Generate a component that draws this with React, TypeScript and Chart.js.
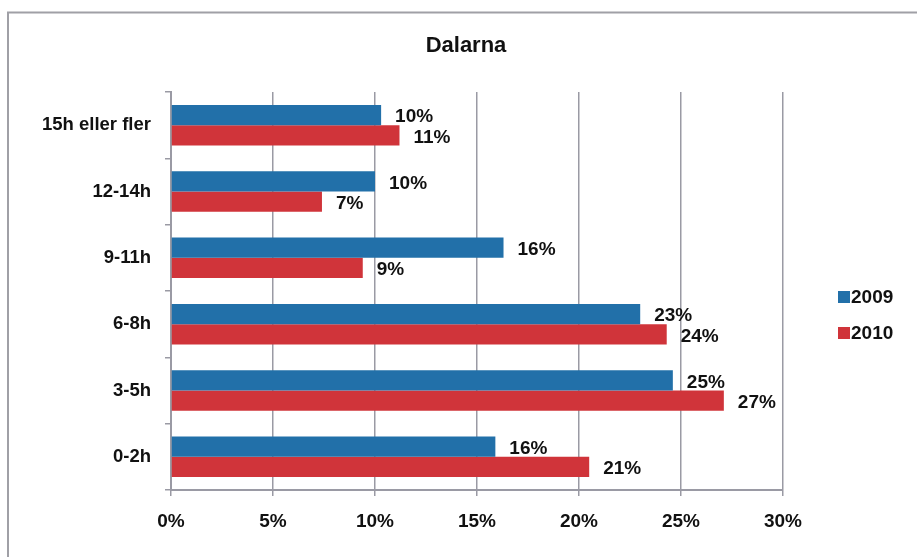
import React, { useEffect, useRef } from "react";
import { Chart, registerables } from "chart.js";

Chart.register(...registerables);

const title = "Dalarna";
const categories = ["15h eller fler", "12-14h", "9-11h", "6-8h", "3-5h", "0-2h"];
const seriesNames = ["2009", "2010"];
const values2009 = [10.3, 10.0, 16.3, 23.0, 24.6, 15.9];
const values2010 = [11.2, 7.4, 9.4, 24.3, 27.1, 20.5];
const xMin = 0;
const xMax = 30;
const xStep = 5;

const BLUE = "#2270a9";
const RED = "#d0343a";
const GRID = "#9a9aa4";
const FONT = '"Liberation Sans", Arial, Helvetica, sans-serif';

export default function App() {
  const ref = useRef<HTMLCanvasElement | null>(null);

  useEffect(() => {
    document.body.style.margin = "0";
    document.body.style.background = "#fff";
    const canvas = ref.current;
    if (!canvas) return;

    const decorPlugin = {
      id: "decor",
      afterDatasetsDraw(chart: any) {
        const ctx = chart.ctx;
        ctx.save();
        ctx.fillStyle = "#111";
        ctx.font = `bold 19px ${FONT}`;
        ctx.textAlign = "left";
        ctx.textBaseline = "middle";
        chart.data.datasets.forEach((ds: any, di: number) => {
          const meta = chart.getDatasetMeta(di);
          meta.data.forEach((el: any, i: number) => {
            const v = ds.data[i] as number;
            ctx.fillText(Math.round(v) + "%", el.x + 14, el.y + 2);
          });
        });
        ctx.restore();
      },
      afterDraw(chart: any) {
        const ctx = chart.ctx;
        ctx.save();
        ctx.strokeStyle = "#a0a0a6";
        ctx.lineWidth = 2;
        ctx.strokeRect(8, 12.5, 1200, 1200);
        ctx.fillStyle = "#111";
        ctx.font = `bold 22px ${FONT}`;
        ctx.textAlign = "center";
        ctx.textBaseline = "middle";
        ctx.fillText(title, 466, 46);
        const colors = [BLUE, RED];
        ctx.font = `bold 19px ${FONT}`;
        ctx.textAlign = "left";
        seriesNames.forEach((name, i) => {
          const cy = 297 + i * 36;
          ctx.fillStyle = colors[i];
          ctx.fillRect(838, cy - 6, 12, 12);
          ctx.fillStyle = "#111";
          ctx.fillText(name, 851, cy + 1);
        });
        ctx.restore();
      },
    };

    const chart = new Chart(canvas, {
      type: "bar",
      data: {
        labels: categories,
        datasets: [
          { label: seriesNames[0], data: values2009, backgroundColor: BLUE, categoryPercentage: 0.61, barPercentage: 1.0 },
          { label: seriesNames[1], data: values2010, backgroundColor: RED, categoryPercentage: 0.61, barPercentage: 1.0 },
        ],
      },
      options: {
        indexAxis: "y",
        responsive: false,
        animation: false,
        devicePixelRatio: 1,
        layout: { padding: { top: 92, right: 134, left: 0, bottom: 0 } },
        plugins: {
          legend: { display: false },
          title: { display: false },
          tooltip: { enabled: false },
        },
        scales: {
          x: {
            min: xMin,
            max: xMax,
            afterFit: (s: any) => {
              s.height = 67;
            },
            ticks: {
              stepSize: xStep,
              callback: (v: any) => v + "%",
              color: "#111",
              font: { family: FONT, size: 19, weight: "bold" },
              padding: 14,
              maxRotation: 0,
            },
            grid: { color: GRID, lineWidth: 1.5, tickLength: 6, drawTicks: true },
            border: { color: GRID, width: 2 },
          },
          y: {
            afterFit: (s: any) => {
              s.width = 171;
            },
            ticks: {
              color: "#111",
              font: { family: FONT, size: 18.5, weight: "bold" },
              padding: 14,
            },
            grid: { drawOnChartArea: false, color: GRID, lineWidth: 1.5, tickLength: 6, offset: true },
            border: { color: GRID, width: 2 },
          },
        },
      },
      plugins: [decorPlugin],
    } as any);

    return () => chart.destroy();
  }, []);

  return (
    <div style={{ width: 917, height: 557, background: "#fff" }}>
      <canvas ref={ref} width={917} height={557} style={{ display: "block" }} />
    </div>
  );
}
